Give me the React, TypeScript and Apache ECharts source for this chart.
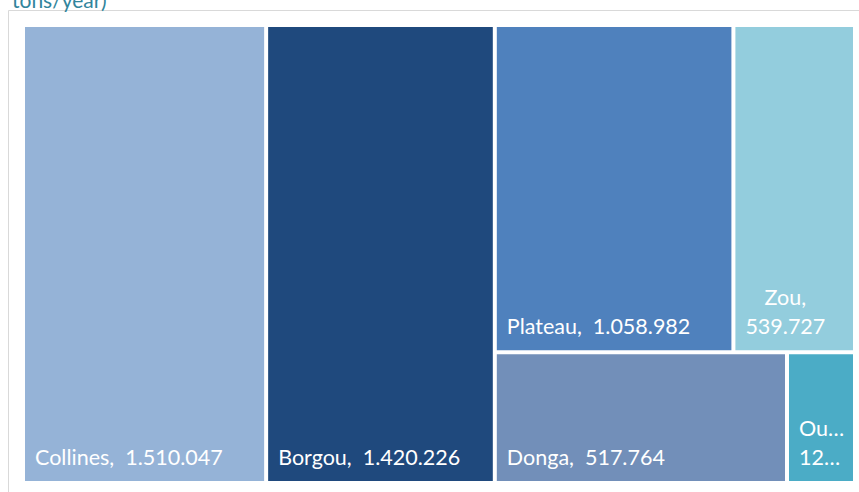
import React, { useEffect, useRef } from "react";
import * as echarts from "echarts";

const names = ["Collines", "Borgou", "Plateau", "Zou", "Donga", "Ouémé"];
const values = [1510047, 1420226, 1058982, 539727, 517764, 120500];
const colors = ["#95b3d7", "#1f497d", "#4f81bd", "#93cddd", "#728fb9", "#4bacc6"];
// grouping used by the layout (index lists into names/values)
const groups = [[0], [1], [2, 3], [4, 5]];
const titleText = "tons/year)";

const FONT = "Lato";
const FS = 21.5;
const LH = 29;

function fmt(v: number): string {
  return String(Math.round(v)).replace(/\B(?=(\d{3})+(?!\d))/g, ".");
}

function measure(s: string): number {
  const c = document.createElement("canvas").getContext("2d");
  if (!c) return s.length * FS * 0.5;
  c.font = `${FS}px ${FONT}`;
  return c.measureText(s).width;
}

const wrapped = new Set(["Zou"]);
const truncated = new Set(["Ouémé"]);

const baseLabel = {
  show: true,
  position: "insideBottomLeft",
  distance: 0,
  padding: [0, 0, 10, 10],
  color: "#fff",
  fontFamily: FONT,
  fontSize: FS,
  lineHeight: LH,
};

function leaf(i: number): any {
  const name = names[i];
  const item: any = {
    name,
    value: values[i],
    itemStyle: { color: colors[i] },
  };
  if (wrapped.has(name)) {
    const l1 = `${name},`;
    const l2 = fmt(values[i]);
    const w = Math.max(measure(l1), measure(l2));
    item.label = {
      ...baseLabel,
      align: "center",
      offset: [w / 2 + 5, 0],
      formatter: `${l1}\n${l2}`,
    };
  } else if (truncated.has(name)) {
    item.label = {
      ...baseLabel,
      padding: [0, 3, 10, 10],
      formatter: (p: any) => `${p.name},\n${fmt(p.value)}`,
      overflow: "truncate",
      ellipsis: "…",
    };
  }
  return item;
}

export default function App() {
  const ref = useRef<HTMLDivElement>(null);
  useEffect(() => {
    if (!ref.current) return;
    const chart = echarts.init(ref.current, null, { renderer: "svg" });
    const data = groups.map((g) =>
      g.length === 1
        ? leaf(g[0])
        : {
            name: g.map((i) => names[i]).join(" / "),
            children: g.map(leaf),
            label: { show: false },
            itemStyle: { color: "#fff", borderWidth: 0, gapWidth: 4, borderColor: "#fff" },
          }
    );
    chart.setOption({
      animation: false,
      backgroundColor: "#fff",
      graphic: [
        {
          type: "rect",
          z: -10,
          shape: { x: 8.5, y: 10.5, width: 1000, height: 1000 },
          style: { fill: "none", stroke: "#d9d9d9", lineWidth: 1 },
        },
        {
          type: "text",
          style: {
            text: titleText,
            x: 12,
            y: 10,
            verticalAlign: "bottom",
            fill: "#31859c",
            font: `21px ${FONT}`,
          },
        },
      ],
      series: [
        {
          type: "treemap",
          left: 25,
          top: 27,
          width: 828,
          height: 454,
          sort: false,
          squareRatio: 1,
          roam: false,
          nodeClick: false,
          silent: true,
          breadcrumb: { show: false },
          itemStyle: { gapWidth: 4, borderWidth: 0, borderColor: "#fff" },
          levels: [
            { itemStyle: { gapWidth: 4, borderWidth: 0, borderColor: "#fff" } },
            { itemStyle: { gapWidth: 4, borderWidth: 0, borderColor: "#fff" } },
          ],
          label: {
            ...baseLabel,
            formatter: (p: any) => `${p.name},  ${fmt(p.value)}`,
          },
          data,
        },
      ],
    });
    return () => chart.dispose();
  }, []);
  return (
    <div
      ref={ref}
      style={{ position: "absolute", left: 0, top: 0, width: 859, height: 492 }}
    />
  );
}
